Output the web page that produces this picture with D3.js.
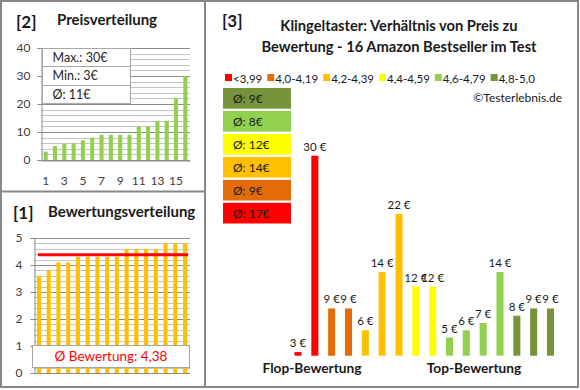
<!DOCTYPE html>
<html>
<head>
<meta charset="utf-8">
<script src="https://cdn.jsdelivr.net/npm/d3@7"></script>
<style>
  body { margin: 0; background: #fff; }
  svg { display: block; font-family: Lato, "Open Sans", sans-serif; }
</style>
</head>
<body>
<svg id="chart" width="580" height="390"></svg>
<script>
// price per product, sorted (panel [2])
const prices = [3, 5, 6, 6, 7, 8, 9, 9, 9, 9, 12, 12, 14, 14, 22, 30];
// rating per product, sorted (panel [1])
const ratings = [3.6, 3.8, 4.1, 4.1, 4.3, 4.3, 4.3, 4.3, 4.3, 4.6, 4.6, 4.6, 4.6, 4.8, 4.8, 4.8];
const ratingMean = 4.38;
const priceTicks = [0, 10, 20, 30, 40];
const ratingTicks = [0, 1, 2, 3, 4, 5];
// panel [3]: products ordered by rating, with their rating class
const ratingClasses = ['<3,99', '4,0-4,19', '4,2-4,39', '4,4-4,59', '4,6-4,79', '4,8-5,0'];
const classColors = ['#ff0000', '#e36c09', '#ffc000', '#ffff00', '#92d050', '#77933c'];
const testPrices = [3, 30, 9, 9, 6, 14, 22, 12, 12, 5, 6, 7, 14, 8, 9, 9];
const testClass = [0, 0, 1, 1, 2, 2, 2, 3, 3, 4, 4, 4, 4, 5, 5, 5];

const svg = d3.select('#chart');
const frame = '#878787';
const gridMajor = '#8c8c8c';
const gridMinor = '#c4c4c4';
const tickColor = '#404040';
const ink = '#1a1a1a';

function euro(v) { return Math.round(v) + '€'; }

// ---- frames
svg.append('rect').attr('x', 1).attr('y', 1).attr('width', 577).attr('height', 386)
  .attr('fill', 'none').attr('stroke', frame).attr('stroke-width', 2);
svg.append('line').attr('x1', 205).attr('x2', 205).attr('y1', 1).attr('y2', 388)
  .attr('stroke', frame).attr('stroke-width', 2);
svg.append('line').attr('x1', 1).attr('x2', 205).attr('y1', 191.5).attr('y2', 191.5)
  .attr('stroke', frame).attr('stroke-width', 2);

function gridlines(g, y, values, x0, x1) {
  g.selectAll('line.grid').data(values).join('line')
    .attr('class', 'grid')
    .attr('x1', x0).attr('x2', x1)
    .attr('y1', d => Math.round(y(d)) + 0.5).attr('y2', d => Math.round(y(d)) + 0.5)
    .attr('stroke', d => y.major(d) ? gridMajor : gridMinor)
    .attr('stroke-width', 1);
}

function styleAxis(g) {
  g.select('.domain').attr('stroke', gridMajor);
  g.selectAll('.tick line').attr('stroke', gridMajor);
  g.selectAll('.tick text').attr('fill', tickColor).style('font-size', '12px')
    .style('font-family', 'Lato, sans-serif');
}

function heading(g, x, y, label, x2, y2, title) {
  g.append('text').attr('x', x).attr('y', y).text(label)
    .style('font-size', '17px').style('font-weight', 'bold').attr('fill', ink);
  g.append('text').attr('x', x2).attr('y', y2).text(title)
    .style('font-size', '15px').style('font-weight', 'bold').attr('fill', ink);
}

// ---- panel [2] Preisverteilung
{
  const g = svg.append('g');
  heading(g, 16, 28, '[2]', 57, 25, 'Preisverteilung');

  const x = d3.scaleBand().domain(d3.range(1, prices.length + 1)).range([41, 190]).paddingInner(0.56).paddingOuter(0.28);
  const y = d3.scaleLinear().domain([0, 40]).range([160, 48]);
  y.major = d => d % 10 === 0;
  gridlines(g, y, d3.range(0, 41, 2), 41, 190);

  g.selectAll('rect.bar').data(prices).join('rect')
    .attr('class', 'bar')
    .attr('x', (d, i) => x(i + 1)).attr('width', x.bandwidth())
    .attr('y', d => y(d)).attr('height', d => y(0) - y(d))
    .attr('fill', '#92d050');

  const ya = g.append('g').attr('transform', 'translate(41.5,0)')
    .call(d3.axisLeft(y).tickValues(priceTicks).tickSize(4).tickPadding(7));
  styleAxis(ya);
  const xa = g.append('g').attr('transform', 'translate(0,160.5)')
    .call(d3.axisBottom(x).tickValues(d3.range(1, 17, 2)).tickSize(0).tickPadding(16));
  styleAxis(xa);

  // stats box
  const stats = ['Max.: ' + euro(d3.max(prices)), 'Min.: ' + euro(d3.min(prices)), 'Ø: ' + euro(d3.mean(prices))];
  const rowH = 18.3;
  const box = g.append('g').attr('transform', 'translate(42.5,48.5)');
  box.append('rect').attr('width', 88).attr('height', rowH * 3)
    .attr('fill', '#fff').attr('stroke', '#a6a6a6');
  box.selectAll('line').data([1, 2]).join('line')
    .attr('x1', 0).attr('x2', 88).attr('y1', d => Math.round(d * rowH)).attr('y2', d => Math.round(d * rowH))
    .attr('stroke', '#a6a6a6');
  box.selectAll('text').data(stats).join('text')
    .attr('x', 10).attr('y', (d, i) => i * rowH + 13.5).text(d => d)
    .style('font-size', '12.5px').attr('fill', '#262626');
}

// ---- panel [1] Bewertungsverteilung
{
  const g = svg.append('g');
  heading(g, 13, 219, '[1]', 48, 217, 'Bewertungsverteilung');

  const x = d3.scaleBand().domain(d3.range(ratings.length)).range([34, 190]).paddingInner(0.58).paddingOuter(0.3);
  const y = d3.scaleLinear().domain([0, 5]).range([373, 238]);
  y.major = d => Math.abs(d - Math.round(d)) < 1e-6;
  gridlines(g, y, d3.range(0, 26).map(d => d / 5), 34, 190);

  g.selectAll('rect.bar').data(ratings).join('rect')
    .attr('class', 'bar')
    .attr('x', (d, i) => x(i)).attr('width', x.bandwidth())
    .attr('y', d => y(d)).attr('height', d => y(0) - y(d))
    .attr('fill', '#ffc000');

  g.append('line').attr('x1', 38).attr('x2', 188)
    .attr('y1', y(ratingMean)).attr('y2', y(ratingMean))
    .attr('stroke', '#ff0000').attr('stroke-width', 3);

  const ya = g.append('g').attr('transform', 'translate(34.5,0)')
    .call(d3.axisLeft(y).tickValues(ratingTicks).tickFormat(d3.format('d')).tickSize(4).tickPadding(8));
  styleAxis(ya);

  g.append('rect').attr('x', 32.5).attr('y', 345.5).attr('width', 157).attr('height', 22)
    .attr('fill', '#fff').attr('stroke', '#a6a6a6');
  g.append('text').attr('x', 111).attr('y', 361).attr('text-anchor', 'middle')
    .text('Ø Bewertung: ' + d3.format('.2f')(ratingMean).replace('.', ','))
    .style('font-size', '13.5px').attr('fill', '#ff0000');
}

// ---- panel [3] Preis zu Bewertung
{
  const g = svg.append('g');
  g.append('text').attr('x', 222).attr('y', 27).text('[3]')
    .style('font-size', '17px').style('font-weight', 'bold').attr('fill', ink);
  const title = ['Klingeltaster: Verhältnis von Preis zu', 'Bewertung - 16 Amazon Bestseller im Test'];
  g.selectAll('text.title').data(title).join('text')
    .attr('class', 'title')
    .attr('x', 399).attr('y', (d, i) => 31 + i * 20.5).attr('text-anchor', 'middle')
    .text(d => d).style('font-size', '14.7px').style('font-weight', 'bold').attr('fill', ink);

  // legend
  let lx = 225;
  ratingClasses.forEach((c, i) => {
    g.append('rect').attr('x', lx).attr('y', 74).attr('width', 7).attr('height', 7).attr('fill', classColors[i]);
    const t = g.append('text').attr('x', lx + 8).attr('y', 82.5).text(c)
      .style('font-size', '11.5px').attr('fill', ink);
    lx += 8 + t.node().getComputedTextLength() + 5;
  });
  g.append('text').attr('x', 562).attr('y', 102).attr('text-anchor', 'end').text('©Testerlebnis.de')
    .style('font-size', '12px').attr('fill', ink);

  // average price per rating class, best class on top
  const classMeans = ratingClasses.map((c, k) => d3.mean(testPrices.filter((p, i) => testClass[i] === k)));
  const boxOrder = d3.range(ratingClasses.length).reverse();
  const by = d3.scaleBand().domain(boxOrder).range([88, 223.5]).paddingInner(0.1);
  const boxes = g.selectAll('g.avg').data(boxOrder).join('g').attr('class', 'avg')
    .attr('transform', k => `translate(223,${by(k)})`);
  boxes.append('rect').attr('width', 68).attr('height', by.bandwidth()).attr('fill', k => classColors[k]);
  boxes.append('text').attr('x', 10).attr('y', by.bandwidth() / 2 + 4.5)
    .text(k => 'Ø: ' + euro(classMeans[k]))
    .style('font-size', '12px').attr('fill', ink);

  // bars
  const x = d3.scaleBand().domain(d3.range(testPrices.length)).range([289.6, 558.9]).paddingInner(0.58).paddingOuter(0.29);
  const y = d3.scaleLinear().domain([2.5, 30]).range([355.7, 155.7]);
  g.selectAll('rect.bar').data(testPrices).join('rect')
    .attr('class', 'bar')
    .attr('x', (d, i) => x(i)).attr('width', x.bandwidth())
    .attr('y', d => y(d)).attr('height', d => y(2.5) - y(d))
    .attr('fill', (d, i) => classColors[testClass[i]]);
  g.selectAll('text.val').data(testPrices).join('text')
    .attr('class', 'val')
    .attr('x', (d, i) => x(i) + x.bandwidth() / 2).attr('y', d => y(d) - 5)
    .attr('text-anchor', 'middle').text(d => d + ' €')
    .style('font-size', '11.5px').attr('fill', ink);

  g.append('text').attr('x', 312).attr('y', 373).attr('text-anchor', 'middle').text('Flop-Bewertung')
    .style('font-size', '13.7px').style('font-weight', 'bold').attr('fill', ink);
  g.append('text').attr('x', 474).attr('y', 373).attr('text-anchor', 'middle').text('Top-Bewertung')
    .style('font-size', '13.7px').style('font-weight', 'bold').attr('fill', ink);
}
</script>
</body>
</html>
